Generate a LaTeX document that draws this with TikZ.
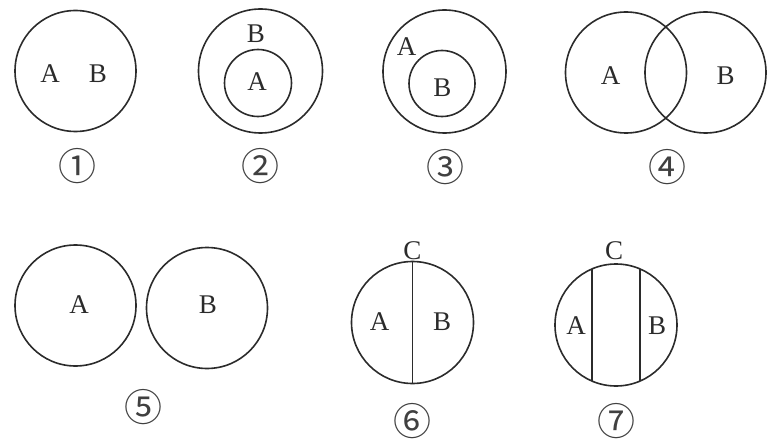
\documentclass[tikz,border=0pt]{standalone}
\usepackage{fontspec}
\setmainfont{Liberation Serif}
\newfontfamily\cjk{Noto Sans CJK SC}
\usetikzlibrary{calc}
\definecolor{setInk}{HTML}{2b2b2b}
\tikzset{
  set/.style={circle, draw=setInk, line width=1.6pt, inner sep=0pt},
  chord/.style={draw=setInk, line width=1.4pt},
  lbl/.style={font=\fontsize{27}{30}\selectfont, text=setInk, inner sep=0pt},
  num/.style={font=\cjk\fontsize{38}{40}\selectfont, text=setInk!90, inner sep=0pt},
}

\begin{document}
\begin{tikzpicture}[x=1pt,y=-1pt]
  \useasboundingbox (0,0) rectangle (777,444);
  % top row
  \node[set,minimum size=121pt] (s1) at (75.5,71) {};
  \node[lbl] (s1a) at (50,74) {A};
  \node[lbl] (s1b) at (98,74) {B};

  \node[set,minimum size=124pt] (s2) at (260.5,71) {};
  \node[set,minimum size=67pt] (s2in) at (258,83) {};
  \node[lbl] (s2b) at (256,33.5) {B};
  \node[lbl] (s2a) at (257,82) {A};

  \node[set,minimum size=123pt] (s3) at (444.5,71.5) {};
  \node[set,minimum size=66pt] (s3in) at (442,83.5) {};
  \node[lbl] (s3a) at (406.5,46.5) {A};
  \node[lbl] (s3b) at (442.5,88) {B};

  \node[set,minimum size=121pt] (s4l) at (626,72.5) {};
  \node[set,minimum size=121pt] (s4r) at (705.5,72.5) {};
  \node[lbl] (s4a) at (610.5,75.5) {A};
  \node[lbl] (s4b) at (725.5,75.5) {B};

  % bottom row
  \node[set,minimum size=121pt] (s5l) at (75.5,305.5) {};
  \node[set,minimum size=121pt] (s5r) at (207,308) {};
  \node[lbl] (s5a) at (79,304.5) {A};
  \node[lbl] (s5b) at (208,305) {B};

  \node[set,minimum size=122pt] (s6) at (412.5,322.5) {};
  \draw[chord] (s6.north) -- (s6.south);
  \node[lbl] (s6c) at (412.5,251) {C};
  \node[lbl] (s6a) at (379.5,322) {A};
  \node[lbl] (s6b) at (442,322) {B};

  \node[set,minimum size=122pt] (s7) at (616,325) {};
  \draw[chord] ($(s7.center)+(-24,-56)$) -- ($(s7.center)+(-24,56)$);
  \draw[chord] ($(s7.center)+(24,-56)$) -- ($(s7.center)+(24,56)$);
  \node[lbl] (s7c) at (614,250.5) {C};
  \node[lbl] (s7a) at (576,325.5) {A};
  \node[lbl] (s7b) at (657,325.5) {B};

  % case numbers
  \foreach \k/\c/\x/\y in {1/①/77/166, 2/②/260/166, 3/③/445/167, 4/④/667/167,
                           5/⑤/143/407, 6/⑥/412/421, 7/⑦/616/421}
    \node[num] (n\k) at (\x,\y) {\c};
\end{tikzpicture}
\end{document}
